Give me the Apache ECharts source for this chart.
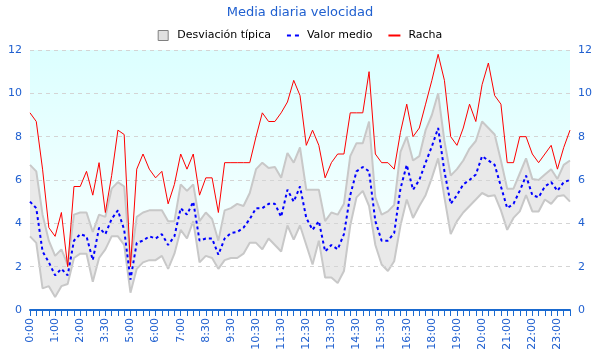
<!DOCTYPE html>
<html>
<head>
<meta charset="utf-8">
<script src="https://cdn.jsdelivr.net/npm/echarts@6/dist/echarts.min.js"></script>
<style>html,body{margin:0;padding:0;background:#fff}#c{width:600px;height:360px}</style>
</head>
<body>
<div id="c"></div>
<script>
const times = ["0:00","0:15","0:30","0:45","1:00","1:15","1:30","1:45","2:00","2:15","2:30","3:00",
"3:30","3:45","4:00","4:30","5:00","5:15","5:30","5:45","6:00","6:15","6:30","6:45",
"7:00","7:30","7:45","8:00","8:30","8:45","9:00","9:15","9:30","9:45","10:00","10:15",
"10:30","10:45","11:00","11:15","11:30","11:45","12:00","12:15","12:30","12:45","13:00","13:15",
"13:30","13:45","14:00","14:15","14:30","14:45","15:00","15:15","15:30","15:45","16:00","16:15",
"16:30","17:00","17:15","17:30","18:00","18:15","18:30","18:45","19:00","19:15","19:30","19:45",
"20:00","20:15","20:30","20:45","21:00","21:15","21:30","21:45","22:00","22:15","22:30","22:45",
"23:00","23:15","23:30"];

const racha = [9.1,8.7,6.5,3.8,3.4,4.5,2.0,5.7,5.7,6.4,
5.3,6.8,4.5,6.2,8.3,8.1,2.0,6.5,7.2,6.5,
6.1,6.4,4.9,5.8,7.2,6.5,7.2,5.3,6.1,6.1,
4.5,6.8,6.8,6.8,6.8,6.8,8.0,9.1,8.7,8.7,
9.1,9.6,10.6,9.9,7.6,8.3,7.6,6.1,6.8,7.2,
7.2,9.1,9.1,9.1,11.0,7.2,6.8,6.8,6.5,8.2,
9.5,8.0,8.4,9.5,10.6,11.8,10.6,8.0,7.6,8.4,
9.5,8.7,10.4,11.4,9.9,9.5,6.8,6.8,8.0,8.0,
7.2,6.8,7.2,7.6,6.5,7.5,8.3];

const media = [5.0,4.7,2.7,2.2,1.6,1.9,1.6,3.2,3.5,3.4,
2.3,3.8,3.5,4.2,4.6,3.7,1.4,3.1,3.2,3.4,
3.3,3.5,3.0,3.4,4.7,4.4,5.0,3.2,3.3,3.3,
2.55,3.3,3.55,3.6,3.8,4.2,4.7,4.7,4.9,4.9,
4.3,5.55,5.0,5.7,4.25,3.7,4.1,2.7,3.0,2.8,
3.5,5.3,6.4,6.6,6.4,4.1,3.2,3.2,3.55,5.6,
6.7,5.55,6.0,6.8,7.55,8.4,6.4,4.9,5.3,5.8,
6.0,6.25,7.1,6.9,6.7,5.7,4.7,4.9,5.5,6.2,
5.3,5.2,5.7,5.9,5.5,5.9,6.0];

const superior = [6.7,6.4,4.4,3.2,2.5,2.8,2.1,4.4,4.5,4.5,
3.6,4.4,4.3,5.6,5.9,5.7,2.2,4.3,4.5,4.6,
4.6,4.6,4.1,4.1,5.8,5.5,5.8,4.1,4.5,4.2,
3.2,4.6,4.7,4.9,4.8,5.4,6.5,6.8,6.55,6.6,
6.1,7.25,6.8,7.5,5.55,5.55,5.55,4.1,4.5,4.4,
4.9,7.1,7.7,7.7,8.7,5.2,4.4,4.55,4.85,7.3,
8.0,6.9,7.1,8.3,9.0,10.0,7.8,6.2,6.5,6.9,
7.45,7.8,8.7,8.4,8.1,6.9,5.6,5.6,6.3,7.0,
6.05,6.0,6.25,6.5,6.05,6.7,6.9];

const inferior = [3.4,3.1,1.0,1.1,0.6,1.1,1.2,2.4,2.6,2.6,
1.3,2.4,2.8,3.4,3.4,3.0,0.8,1.9,2.2,2.3,
2.3,2.5,1.9,2.6,3.7,3.3,4.1,2.2,2.5,2.4,
1.9,2.3,2.4,2.4,2.6,3.1,3.1,2.8,3.3,3.0,
2.7,3.9,3.25,3.9,3.0,2.1,3.2,1.5,1.5,1.25,
1.8,3.9,5.2,5.5,4.8,3.0,2.1,1.8,2.25,3.9,
5.1,4.25,4.8,5.3,6.1,7.0,5.2,3.5,4.1,4.5,
4.8,5.1,5.4,5.25,5.3,4.6,3.7,4.25,4.55,5.3,
4.55,4.55,5.1,4.9,5.25,5.3,5.0];

const yTicks = {min: 0, max: 12, step: 2};

const blue = '#2060d0';
const font = 'DejaVu Sans';
const chart = echarts.init(document.getElementById('c'), null, {renderer: 'canvas'});
chart.setOption({
  animation: false,
  backgroundColor: '#ffffff',
  title: {
    text: 'Media diaria velocidad', left: 'center', top: 1,
    textStyle: {color: blue, fontSize: 13, fontWeight: 'normal', fontFamily: font}
  },
  legend: {
    top: 25, left: 'center', itemWidth: 12, itemHeight: 10, itemGap: 16,
    textStyle: {color: '#000', fontSize: 11, fontFamily: font, padding: [0, 0, 0, 3]},
    data: [
      {name: 'Desviación típica', icon: 'path://M0,0L10,0L10,10L0,10Z',
       itemStyle: {color: '#e0e0e0', borderColor: '#808080', borderWidth: 1}},
      {name: 'Valor medio', icon: 'path://M0,0H4V2H0ZM8,0H12V2H8Z',
       itemStyle: {color: '#0000ff', borderWidth: 0}},
      {name: 'Racha', icon: 'path://M0,0H12V2H0Z',
       itemStyle: {color: '#ff0000', borderWidth: 0}}
    ]
  },
  grid: {
    left: 30, right: 30, top: 50, bottom: 50, show: true, borderWidth: 0,
    backgroundColor: {type: 'linear', x: 0, y: 0, x2: 0, y2: 1,
      colorStops: [{offset: 0, color: '#dcffff'}, {offset: 1, color: '#ffffff'}]}
  },
  xAxis: {
    type: 'category', boundaryGap: false, data: times, z: 6,
    axisLine: {lineStyle: {color: '#1a6ad0', width: 2}},
    axisTick: {show: true, interval: 0, length: 6, lineStyle: {color: '#1a6ad0', width: 1}},
    axisLabel: {interval: 3, rotate: 90, color: blue, fontSize: 11, fontFamily: font, margin: 8},
    splitLine: {show: false}
  },
  yAxis: [
    {type: 'value', min: yTicks.min, max: yTicks.max, interval: yTicks.step, position: 'left', z: 3,
     axisLine: {show: false}, axisTick: {show: false},
     axisLabel: {color: blue, fontSize: 11, fontFamily: font, margin: 8},
     splitLine: {show: true, lineStyle: {color: '#d4d4d4', type: [4, 4], width: 1}}},
    {type: 'value', min: yTicks.min, max: yTicks.max, interval: yTicks.step, position: 'right', z: 3,
     axisLine: {show: false}, axisTick: {show: false},
     axisLabel: {color: blue, fontSize: 11, fontFamily: font, margin: 8},
     splitLine: {show: false}}
  ],
  series: [
    {name: 'Desviación típica', type: 'line', data: superior, symbol: 'none', z: 1,
     lineStyle: {color: '#c8c8c8', width: 2}, itemStyle: {color: '#e0e0e0'},
     areaStyle: {color: '#e9e9e9', opacity: 1, origin: 'start'}},
    {name: 'inferior', type: 'line', data: inferior, symbol: 'none', z: 2,
     lineStyle: {color: '#c8c8c8', width: 2},
     areaStyle: {color: '#ffffff', opacity: 1, origin: 'start'}},
    {name: 'Valor medio', type: 'line', data: media, symbol: 'none', z: 4,
     itemStyle: {color: '#0000ff'},
     lineStyle: {color: '#0000ff', width: 2, type: [3, 3]}},
    {name: 'Racha', type: 'line', data: racha, symbol: 'none', z: 5,
     itemStyle: {color: '#ff0000'},
     lineStyle: {color: '#ff0000', width: 1}}
  ]
});
</script>
</body>
</html>
